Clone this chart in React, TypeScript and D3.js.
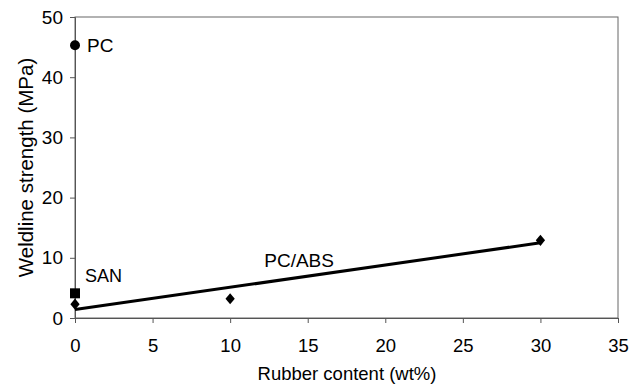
import React, { useEffect, useRef } from 'react';
import * as d3 from 'd3';

const xTicks = [0, 5, 10, 15, 20, 25, 30, 35];
const yTicks = [0, 10, 20, 30, 40, 50];

// PC/ABS blends (diamonds)
const blendX = [0, 10, 30];
const blendY = [2.3, 3.2, 12.9];
// pure polymers
const pcPoint = [0, 45.3];
const sanPoint = [0, 4.1];
// trend line end points
const trendX = [0, 30];
const trendY = [1.4, 12.5];

const App = () => {
  const svgRef = useRef<SVGSVGElement>(null);

  useEffect(() => {
    const width = 631;
    const height = 388;
    const margin = { top: 17, right: 13, bottom: 70, left: 75 };
    const font = '"Liberation Sans", Arial, sans-serif';

    const svg = d3.select(svgRef.current)
      .attr('width', width)
      .attr('height', height);
    svg.selectAll('*').remove();

    const x = d3.scaleLinear().domain([0, 35]).range([margin.left, width - margin.right]);
    const y = d3.scaleLinear().domain([0, 50]).range([height - margin.bottom, margin.top]);

    // frame
    svg.append('rect')
      .attr('x', x(0))
      .attr('y', y(50))
      .attr('width', x(35) - x(0))
      .attr('height', y(0) - y(50))
      .attr('fill', 'none')
      .attr('stroke', '#666')
      .attr('stroke-width', 1);

    const xAxis = svg.append('g')
      .attr('transform', `translate(0,${y(0)})`)
      .call(d3.axisBottom(x).tickValues(xTicks).tickSize(5).tickPadding(16));
    const yAxis = svg.append('g')
      .attr('transform', `translate(${x(0)},0)`)
      .call(d3.axisLeft(y).tickValues(yTicks).tickSize(5).tickPadding(7));

    [xAxis, yAxis].forEach(g => {
      g.select('.domain').attr('stroke', '#555');
      g.selectAll('.tick line').attr('stroke', '#555');
      g.selectAll('.tick text')
        .attr('fill', '#000')
        .style('font-family', font)
        .style('font-size', '19px');
    });
    xAxis.selectAll('.tick text').style('font-size', '18.5px');

    // trend line
    const line = d3.line<number>()
      .x((_, i) => x(trendX[i]))
      .y(d => y(d));
    svg.append('path')
      .datum(trendY)
      .attr('d', line)
      .attr('fill', 'none')
      .attr('stroke', '#000')
      .attr('stroke-width', 3);

    const diamond = d3.symbol().type(d3.symbolDiamond2).size(55);
    svg.selectAll('.blend')
      .data(blendX)
      .enter()
      .append('path')
      .attr('transform', (d, i) => `translate(${x(d)},${y(blendY[i])}) scale(1,1.2)`)
      .attr('d', diamond)
      .attr('fill', '#000');

    svg.append('rect')
      .attr('x', x(sanPoint[0]) - 5)
      .attr('y', y(sanPoint[1]) - 5)
      .attr('width', 10)
      .attr('height', 10)
      .attr('fill', '#000');

    svg.append('circle')
      .attr('cx', x(pcPoint[0]))
      .attr('cy', y(pcPoint[1]))
      .attr('r', 5)
      .attr('fill', '#000');

    const label = (tx: number, ty: number, t: string, size: number) =>
      svg.append('text')
        .attr('x', tx)
        .attr('y', ty)
        .attr('fill', '#000')
        .style('font-family', font)
        .style('font-size', `${size}px`)
        .text(t);

    label(x(0) + 12, y(pcPoint[1]) + 7, 'PC', 19);
    label(x(0) + 10, y(sanPoint[1]) - 11, 'SAN', 18);
    label(x(12.2), y(9.4) + 6, 'PC/ABS', 19);

    svg.append('text')
      .attr('transform', `translate(33,${(y(0) + y(50)) / 2}) rotate(-90)`)
      .attr('text-anchor', 'middle')
      .style('font-family', font)
      .style('font-size', '20.5px')
      .text('Weldline strength (MPa)');

    svg.append('text')
      .attr('x', 347)
      .attr('y', 380)
      .attr('text-anchor', 'middle')
      .style('font-family', font)
      .style('font-size', '18.5px')
      .text('Rubber content (wt%)');
  }, []);

  return (
    <svg ref={svgRef} style={{ position: 'absolute', left: 0, top: 0 }}></svg>
  );
};

export default App;
